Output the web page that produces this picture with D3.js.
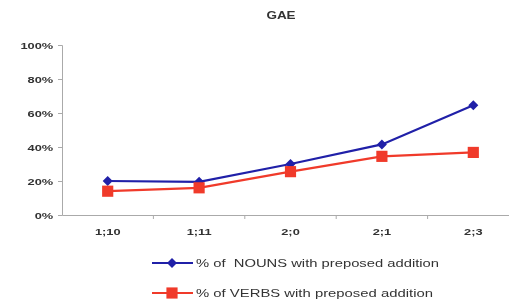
<!DOCTYPE html>
<html><head><meta charset="utf-8">
<script src="https://cdn.jsdelivr.net/npm/d3@7"></script>
<style>
html,body{margin:0;padding:0;background:#fff;overflow:hidden;}
svg{display:block;font-family:"Liberation Sans",Arial,sans-serif;filter:blur(0.5px);}
</style></head>
<body>
<svg id="chart" width="509" height="304"></svg>
<script>
const categories = ["1;10", "1;11", "2;0", "2;1", "2;3"];
const nouns = [0.20, 0.195, 0.30, 0.415, 0.645];
const verbs = [0.14, 0.16, 0.255, 0.345, 0.368];
const yTicks = [0, 0.2, 0.4, 0.6, 0.8, 1.0];
const seriesNames = ["% of  NOUNS with preposed addition", "% of VERBS with preposed addition"];
const title = "GAE";

(function () {
const svg = d3.select("#chart");
const mLeft = 62, mRight = 519, mTop = 45, mBottom = 215;
const sx = 1.35;

const x = d3.scaleBand().domain(categories).range([mLeft, mRight]);
const y = d3.scaleLinear().domain([0, 1]).range([mBottom, mTop]);

svg.append("text").attr("transform", `translate(281,19) scale(${sx},1)`).attr("text-anchor", "middle")
  .attr("font-size", 10).attr("font-weight", "bold").attr("fill", "#333").text(title);

const ya = svg.append("g").attr("transform", `translate(${mLeft},0)`)
  .call(d3.axisLeft(y).tickValues(yTicks).tickFormat(d3.format(".0%")).tickSize(4).tickPadding(2.5));
ya.select(".domain").attr("stroke", "#aaa");
ya.selectAll(".tick line").attr("stroke", "#aaa");
ya.selectAll("text").attr("font-size", 9.5).attr("font-weight", "bold").attr("fill", "#333")
  .attr("font-family", "Liberation Sans, Arial, sans-serif").attr("transform", `scale(${sx},1)`);

const xa = svg.append("g").attr("transform", `translate(0,${mBottom})`)
  .call(d3.axisBottom(x).tickSize(0).tickPadding(13));
xa.select(".domain").attr("stroke", "#aaa");
xa.selectAll("text").attr("font-size", 9.5).attr("font-weight", "bold").attr("fill", "#333")
  .attr("font-family", "Liberation Sans, Arial, sans-serif").attr("transform", `scale(${sx},1)`);
const bounds = categories.slice(1).map(c => x(c));
svg.append("g").selectAll("line").data(bounds).join("line")
  .attr("x1", d => d).attr("x2", d => d).attr("y1", mBottom).attr("y2", mBottom + 4)
  .attr("stroke", "#aaa");

const cx = c => x(c) + x.bandwidth() / 2;
const line = d3.line().x((d, i) => cx(categories[i])).y(d => y(d));

const blue = "#2020a8", red = "#f03a2a";

svg.append("path").datum(verbs).attr("d", line).attr("fill", "none").attr("stroke", red).attr("stroke-width", 2.2);
svg.append("path").datum(nouns).attr("d", line).attr("fill", "none").attr("stroke", blue).attr("stroke-width", 2.2);

const sq = d3.symbol().type(d3.symbolSquare).size(125)();
const dm = d3.symbol().type(d3.symbolSquare).size(50)();

svg.append("g").selectAll("path").data(nouns).join("path")
  .attr("d", dm).attr("fill", blue)
  .attr("transform", (d, i) => `translate(${cx(categories[i])},${y(d)}) rotate(45)`);
svg.append("g").selectAll("path").data(verbs).join("path")
  .attr("d", sq).attr("fill", red)
  .attr("transform", (d, i) => `translate(${cx(categories[i])},${y(d)})`);

const leg = [{name: seriesNames[0], color: blue, sym: dm, rot: 45, y: 263, len: 243},
             {name: seriesNames[1], color: red, sym: sq, rot: 0, y: 293, len: 237}];
const lg = svg.append("g").selectAll("g").data(leg).join("g");
lg.append("line").attr("x1", 152).attr("x2", 193).attr("y1", d => d.y).attr("y2", d => d.y)
  .attr("stroke", d => d.color).attr("stroke-width", 2.2);
lg.append("path").attr("d", d => d.sym).attr("fill", d => d.color)
  .attr("transform", d => `translate(172,${d.y}) rotate(${d.rot})`);
lg.append("text").attr("x", 196).attr("y", d => d.y + 4).attr("font-size", 11)
  .attr("xml:space", "preserve").style("white-space", "pre")
  .attr("textLength", d => d.len).attr("lengthAdjust", "spacingAndGlyphs")
  .attr("fill", "#333").text(d => d.name);
})();
</script>
</body></html>
